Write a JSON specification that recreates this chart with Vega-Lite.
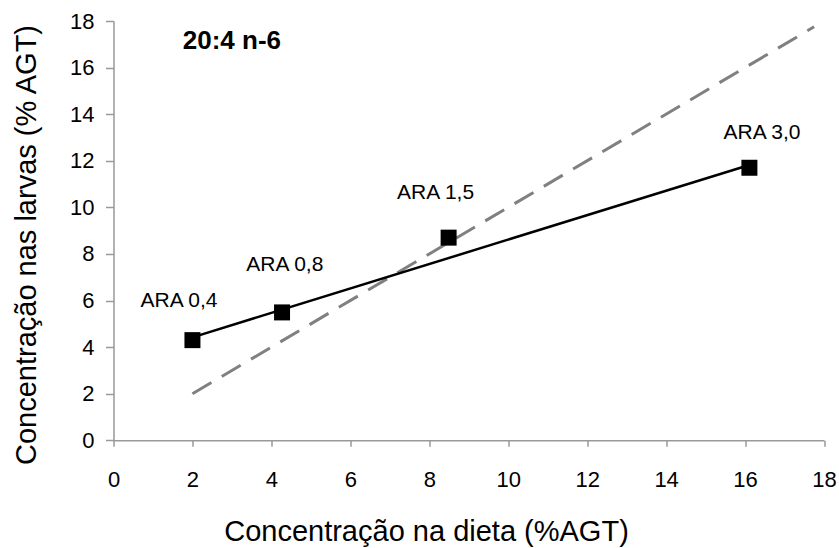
{
  "$schema": "https://vega.github.io/schema/vega-lite/v6.json",
  "autosize": "none",
  "width": 710.5,
  "height": 419.3,
  "padding": {"left": 113.5, "top": 21, "right": 15, "bottom": 107.7},
  "background": "white",
  "config": {
    "view": {"stroke": null},
    "font": "Liberation Sans",
    "axis": {"grid": false, "domainColor": "#999999", "tickColor": "#999999", "domainWidth": 1.5, "tickWidth": 1.5, "labelColor": "black", "titleColor": "black", "labelFont": "Liberation Sans", "titleFont": "Liberation Sans", "titleFontWeight": "normal"}
  },
  "datasets": {
    "points": [
      {"x": 2, "y": 4.3},
      {"x": 4.27, "y": 5.49},
      {"x": 8.49, "y": 8.7},
      {"x": 16.11, "y": 11.7}
    ],
    "fit": [
      {"x": 2, "y": 4.42},
      {"x": 16.11, "y": 11.82}
    ],
    "identity": [
      {"x": 2, "y": 2},
      {"x": 17.75, "y": 17.75}
    ],
    "labels": [
      {"x": 1.66, "y": 5.99, "text": "ARA 0,4"},
      {"x": 4.34, "y": 7.52, "text": "ARA 0,8"},
      {"x": 8.16, "y": 10.6, "text": "ARA 1,5"},
      {"x": 16.43, "y": 13.18, "text": "ARA 3,0"}
    ],
    "title": [
      {"x": 3.0, "y": 17.13, "text": "20:4 n-6"}
    ]
  },
  "layer": [
    {
      "data": {"name": "identity"},
      "mark": {"type": "line", "color": "#808080", "strokeWidth": 3, "strokeDash": [22, 12]},
      "encoding": {
        "x": {"field": "x", "type": "quantitative", "scale": {"domain": [0, 18], "nice": false, "zero": false},
          "axis": {"values": [0, 2, 4, 6, 8, 10, 12, 14, 16, 18], "tickSize": 6, "labelPadding": 23, "labelFontSize": 22, "title": "Concentração na dieta (%AGT)", "titleFontSize": 29, "titleX": 312.5, "titleY": 100, "titleAlign": "center", "titleBaseline": "alphabetic", "labelFlush": false}},
        "y": {"field": "y", "type": "quantitative", "scale": {"domain": [0, 18], "nice": false, "zero": false},
          "axis": {"values": [0, 2, 4, 6, 8, 10, 12, 14, 16, 18], "tickSize": 8, "labelPadding": 11.5, "labelFontSize": 22, "title": "Concentração nas larvas (% AGT)", "titleFontSize": 29, "titleX": -78, "titleY": 223.5, "titleAngle": -90, "titleAlign": "center", "titleBaseline": "alphabetic", "labelFlush": false}}
      }
    },
    {
      "data": {"name": "fit"},
      "mark": {"type": "line", "color": "black", "strokeWidth": 2.5},
      "encoding": {
        "x": {"field": "x", "type": "quantitative"},
        "y": {"field": "y", "type": "quantitative"}
      }
    },
    {
      "data": {"name": "points"},
      "mark": {"type": "point", "shape": "square", "filled": true, "color": "black", "size": 256, "opacity": 1},
      "encoding": {
        "x": {"field": "x", "type": "quantitative"},
        "y": {"field": "y", "type": "quantitative"}
      }
    },
    {
      "data": {"name": "labels"},
      "mark": {"type": "text", "fontSize": 21, "color": "black", "align": "center", "baseline": "middle"},
      "encoding": {
        "x": {"field": "x", "type": "quantitative"},
        "y": {"field": "y", "type": "quantitative"},
        "text": {"field": "text"}
      }
    },
    {
      "data": {"name": "title"},
      "mark": {"type": "text", "fontSize": 26, "fontWeight": "bold", "color": "black", "align": "center", "baseline": "middle"},
      "encoding": {
        "x": {"field": "x", "type": "quantitative"},
        "y": {"field": "y", "type": "quantitative"},
        "text": {"field": "text"}
      }
    }
  ]
}
